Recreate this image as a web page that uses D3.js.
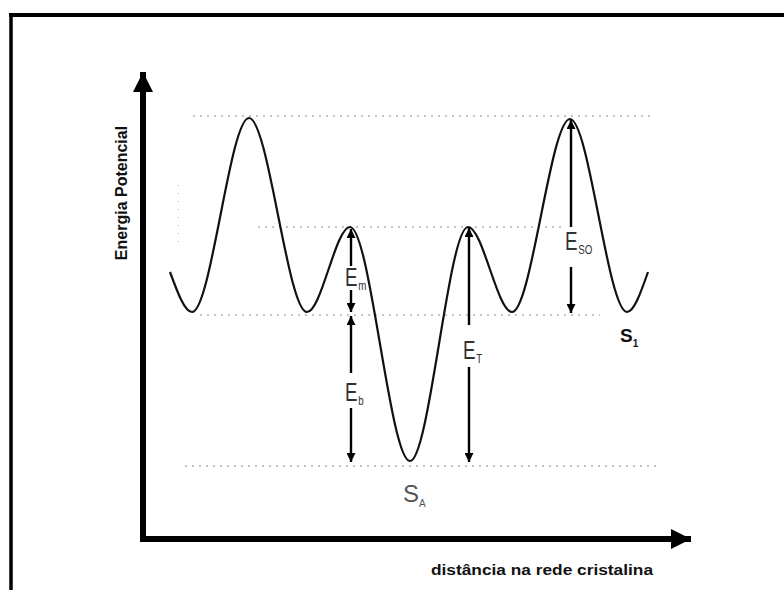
<!DOCTYPE html>
<html><head><meta charset="utf-8">
<script src="https://cdn.jsdelivr.net/npm/d3@7"></script>
<style>html,body{margin:0;padding:0;background:#fff;}svg{display:block;}</style>
</head><body>
<svg id="chart" width="784" height="590"></svg>
<script>
// ---- data (distance units along x, potential energy units along y) ----
const curveX = [2.7, 4.9, 10.6, 16.4, 20.7, 26.7, 32.5, 36.9, 42.7, 48.4, 50.5];
const curveE = [26.7, 22.7, 42.1, 22.7, 31.2, 7.8, 31.2, 22.7, 42.0, 22.7, 26.7];

// dotted reference levels
const guideE  = [42.3, 31.2, 22.4, 7.3];
const guideX0 = [5.0, 11.5, 5.7, 4.2];
const guideX1 = [51.2, 42.2, 45.7, 51.7];

// faint vertical dotted mark on the left
const markX = 3.5;
const markE = [35.4, 29.6];

// energy arrows
const arrowName   = ["m", "b", "T", "SO"];
const arrowX      = [20.8, 20.8, 32.6, 42.8];
const arrowTop    = [31.0, 22.3, 31.1, 41.9];
const arrowBottom = [22.7, 7.7, 7.7, 22.6];
const gapTop      = [27.3, 16.6, 21.4, 31.2];
const gapBottom   = [24.9, 13.1, 17.2, 27.2];
const labelE      = [26.2, 14.7, 18.9, 29.8];

// site labels
const siteName = ["A", "1"];
const siteX    = [26.0, 47.7];
const siteE    = [3.7, 19.7];

const xTitle = "distância na rede cristalina";
const yTitle = "Energia Potencial";

// ---- drawing ----
const svg = d3.select("#chart");
const x = d3.scaleLinear().domain([0, 55]).range([143, 693]);
const y = d3.scaleLinear().domain([0, 47]).range([539, 69]);

// outer frame (top and left)
svg.append("line").attr("x1", 9).attr("x2", 784).attr("y1", 15).attr("y2", 15)
  .attr("stroke", "#000").attr("stroke-width", 4);
svg.append("line").attr("x1", 11).attr("x2", 11).attr("y1", 13).attr("y2", 590)
  .attr("stroke", "#000").attr("stroke-width", 3.5);

const defs = svg.append("defs");
function head(id, size) {
  defs.append("marker").attr("id", id)
    .attr("viewBox", "0 0 10 10").attr("refX", 10).attr("refY", 5)
    .attr("markerWidth", size[0]).attr("markerHeight", size[1])
    .attr("markerUnits", "userSpaceOnUse").attr("orient", "auto")
    .append("path").attr("d", "M0,0 L10,5 L0,10 Z").attr("fill", "#000");
}
head("axisHead", [20, 20]);
head("eHead", [14, 9]);

// dotted guides
guideE.forEach((e, i) => {
  svg.append("line")
    .attr("x1", x(guideX0[i])).attr("x2", x(guideX1[i]))
    .attr("y1", y(e)).attr("y2", y(e))
    .attr("stroke", "#8a8a8a").attr("stroke-width", 1.2)
    .attr("stroke-dasharray", "2,5");
});
svg.append("line")
  .attr("x1", x(markX)).attr("x2", x(markX))
  .attr("y1", y(markE[0])).attr("y2", y(markE[1]))
  .attr("stroke", "#aaa").attr("stroke-width", 1)
  .attr("stroke-dasharray", "1,7");

// axes
svg.append("line").attr("x1", x(0)).attr("x2", x(0)).attr("y1", y(0) + 3).attr("y2", y(47) + 3)
  .attr("stroke", "#000").attr("stroke-width", 6).attr("marker-end", "url(#axisHead)");
svg.append("line").attr("x1", x(0) - 3).attr("x2", x(55) - 2).attr("y1", y(0)).attr("y2", y(0))
  .attr("stroke", "#000").attr("stroke-width", 6).attr("marker-end", "url(#axisHead)");

// potential curve
const pts = curveX.map((d, i) => [d, curveE[i]]);
svg.append("path").datum(pts)
  .attr("d", d3.line().x(d => x(d[0])).y(d => y(d[1])).curve(d3.curveMonotoneX))
  .attr("fill", "none").attr("stroke", "#111").attr("stroke-width", 2.2);

// energy arrows
arrowName.forEach((n, i) => {
  const ax = x(arrowX[i]);
  svg.append("line").attr("x1", ax).attr("x2", ax)
    .attr("y1", y(gapTop[i])).attr("y2", y(arrowTop[i]))
    .attr("stroke", "#000").attr("stroke-width", 2.4).attr("marker-end", "url(#eHead)");
  svg.append("line").attr("x1", ax).attr("x2", ax)
    .attr("y1", y(gapBottom[i])).attr("y2", y(arrowBottom[i]))
    .attr("stroke", "#000").attr("stroke-width", 2.4).attr("marker-end", "url(#eHead)");
  const t = svg.append("text")
    .attr("transform", `translate(${ax - 6},${y(labelE[i]) + 9}) scale(0.75,1)`)
    .attr("font-family", "Liberation Sans, Arial, sans-serif")
    .attr("font-size", 25).attr("fill", "#333");
  t.append("tspan").text("E");
  t.append("tspan").attr("font-size", 13).attr("dy", 4).attr("dx", 1).text(n);
});

// site labels
siteName.forEach((n, i) => {
  const t = svg.append("text")
    .attr("x", x(siteX[i])).attr("y", y(siteE[i]))
    .attr("font-family", "Liberation Sans, Arial, sans-serif")
    .attr("font-size", i === 0 ? 24 : 19)
    .attr("font-weight", i === 0 ? "normal" : "bold")
    .attr("fill", i === 0 ? "#555" : "#111");
  t.append("tspan").text("S");
  t.append("tspan").attr("font-size", 10).attr("dy", 5).text(n);
});

// axis titles
svg.append("text")
  .attr("transform", `translate(127,193) rotate(-90)`)
  .attr("text-anchor", "middle")
  .attr("font-family", "Liberation Sans, Arial, sans-serif")
  .attr("font-weight", "bold").attr("font-size", 16).attr("fill", "#111")
  .text(yTitle);
svg.append("text")
  .attr("x", 431).attr("y", 575)
  .attr("font-family", "Liberation Sans, Arial, sans-serif")
  .attr("font-weight", "bold").attr("font-size", 14).attr("fill", "#111")
  .attr("textLength", 222).attr("lengthAdjust", "spacingAndGlyphs")
  .text(xTitle);
</script>
</body></html>
